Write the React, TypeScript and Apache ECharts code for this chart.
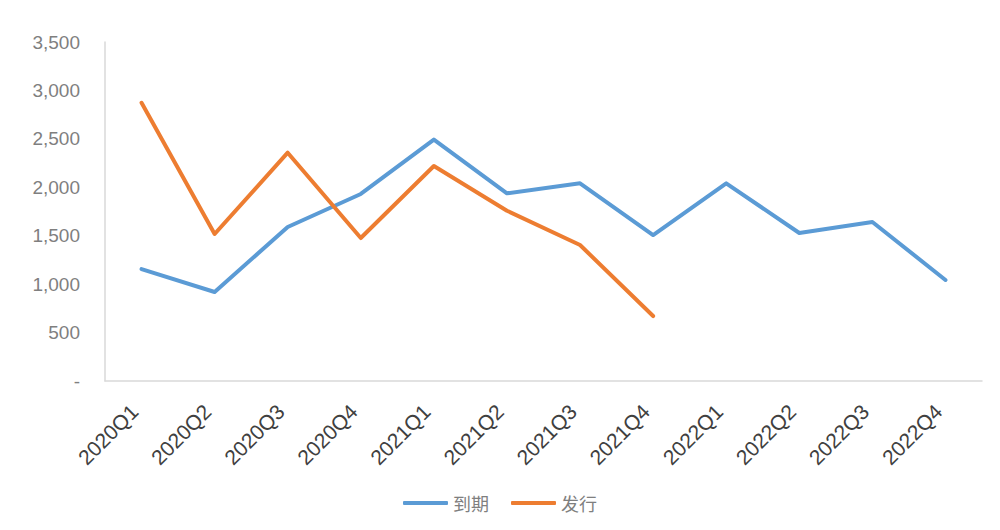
import React, { useEffect, useRef } from "react";
import * as echarts from "echarts";

const categories = [
  "2020Q1", "2020Q2", "2020Q3", "2020Q4",
  "2021Q1", "2021Q2", "2021Q3", "2021Q4",
  "2022Q1", "2022Q2", "2022Q3", "2022Q4",
];
const maturity = [1156, 919, 1590, 1931, 2493, 1938, 2041, 1507, 2041, 1528, 1642, 1043];
const issuance = [2873, 1518, 2357, 1476, 2220, 1758, 1404, 671];
const seriesNames = ["到期", "发行"];

const FONT = "'Liberation Sans', 'Noto Sans CJK SC', sans-serif";

export default function App() {
  const ref = useRef<HTMLDivElement>(null);
  useEffect(() => {
    if (!ref.current) return;
    const chart = echarts.init(ref.current, undefined, { renderer: "svg" });
    chart.setOption({
      animation: false,
      textStyle: { fontFamily: FONT },
      grid: { left: 105, right: 18, top: 42, bottom: 149 },
      legend: {
        bottom: 13,
        left: "center",
        itemWidth: 45,
        itemHeight: 4,
        itemGap: 22,
        icon: "roundRect",
        textStyle: { color: "#7f7f7f", fontSize: 18, fontFamily: "'Noto Sans CJK SC', sans-serif" },
        data: seriesNames,
      },
      xAxis: {
        type: "category",
        data: categories,
        boundaryGap: true,
        axisLine: { lineStyle: { color: "#d9d9d9", width: 1.5 } },
        axisTick: { show: false },
        axisLabel: {
          rotate: 45,
          margin: 20,
          padding: [0, 10, 0, 0],
          color: "#404040",
          fontSize: 21,
          fontFamily: FONT,
          interval: 0,
        },
      },
      yAxis: {
        type: "value",
        min: 0,
        max: 3500,
        interval: 500,
        splitLine: { show: false },
        axisLine: { show: true, lineStyle: { color: "#d9d9d9", width: 1.5 } },
        axisTick: { show: false },
        axisLabel: {
          margin: 25,
          color: "#7f7f7f",
          fontSize: 19,
          fontFamily: FONT,
          formatter: (v: number) => (v === 0 ? "-" : v.toLocaleString("en-US")),
        },
      },
      series: [
        {
          name: seriesNames[0],
          type: "line",
          data: maturity,
          symbol: "none",
          lineStyle: { color: "#5b9bd5", width: 4, cap: "round", join: "round" },
          itemStyle: { color: "#5b9bd5" },
        },
        {
          name: seriesNames[1],
          type: "line",
          data: issuance,
          symbol: "none",
          lineStyle: { color: "#ed7d31", width: 4, cap: "round", join: "round" },
          itemStyle: { color: "#ed7d31" },
        },
      ],
    });
    return () => chart.dispose();
  }, []);
  return (
    <div
      ref={ref}
      style={{ position: "fixed", left: 0, top: 0, width: 1000, height: 530, background: "#fff" }}
    />
  );
}
